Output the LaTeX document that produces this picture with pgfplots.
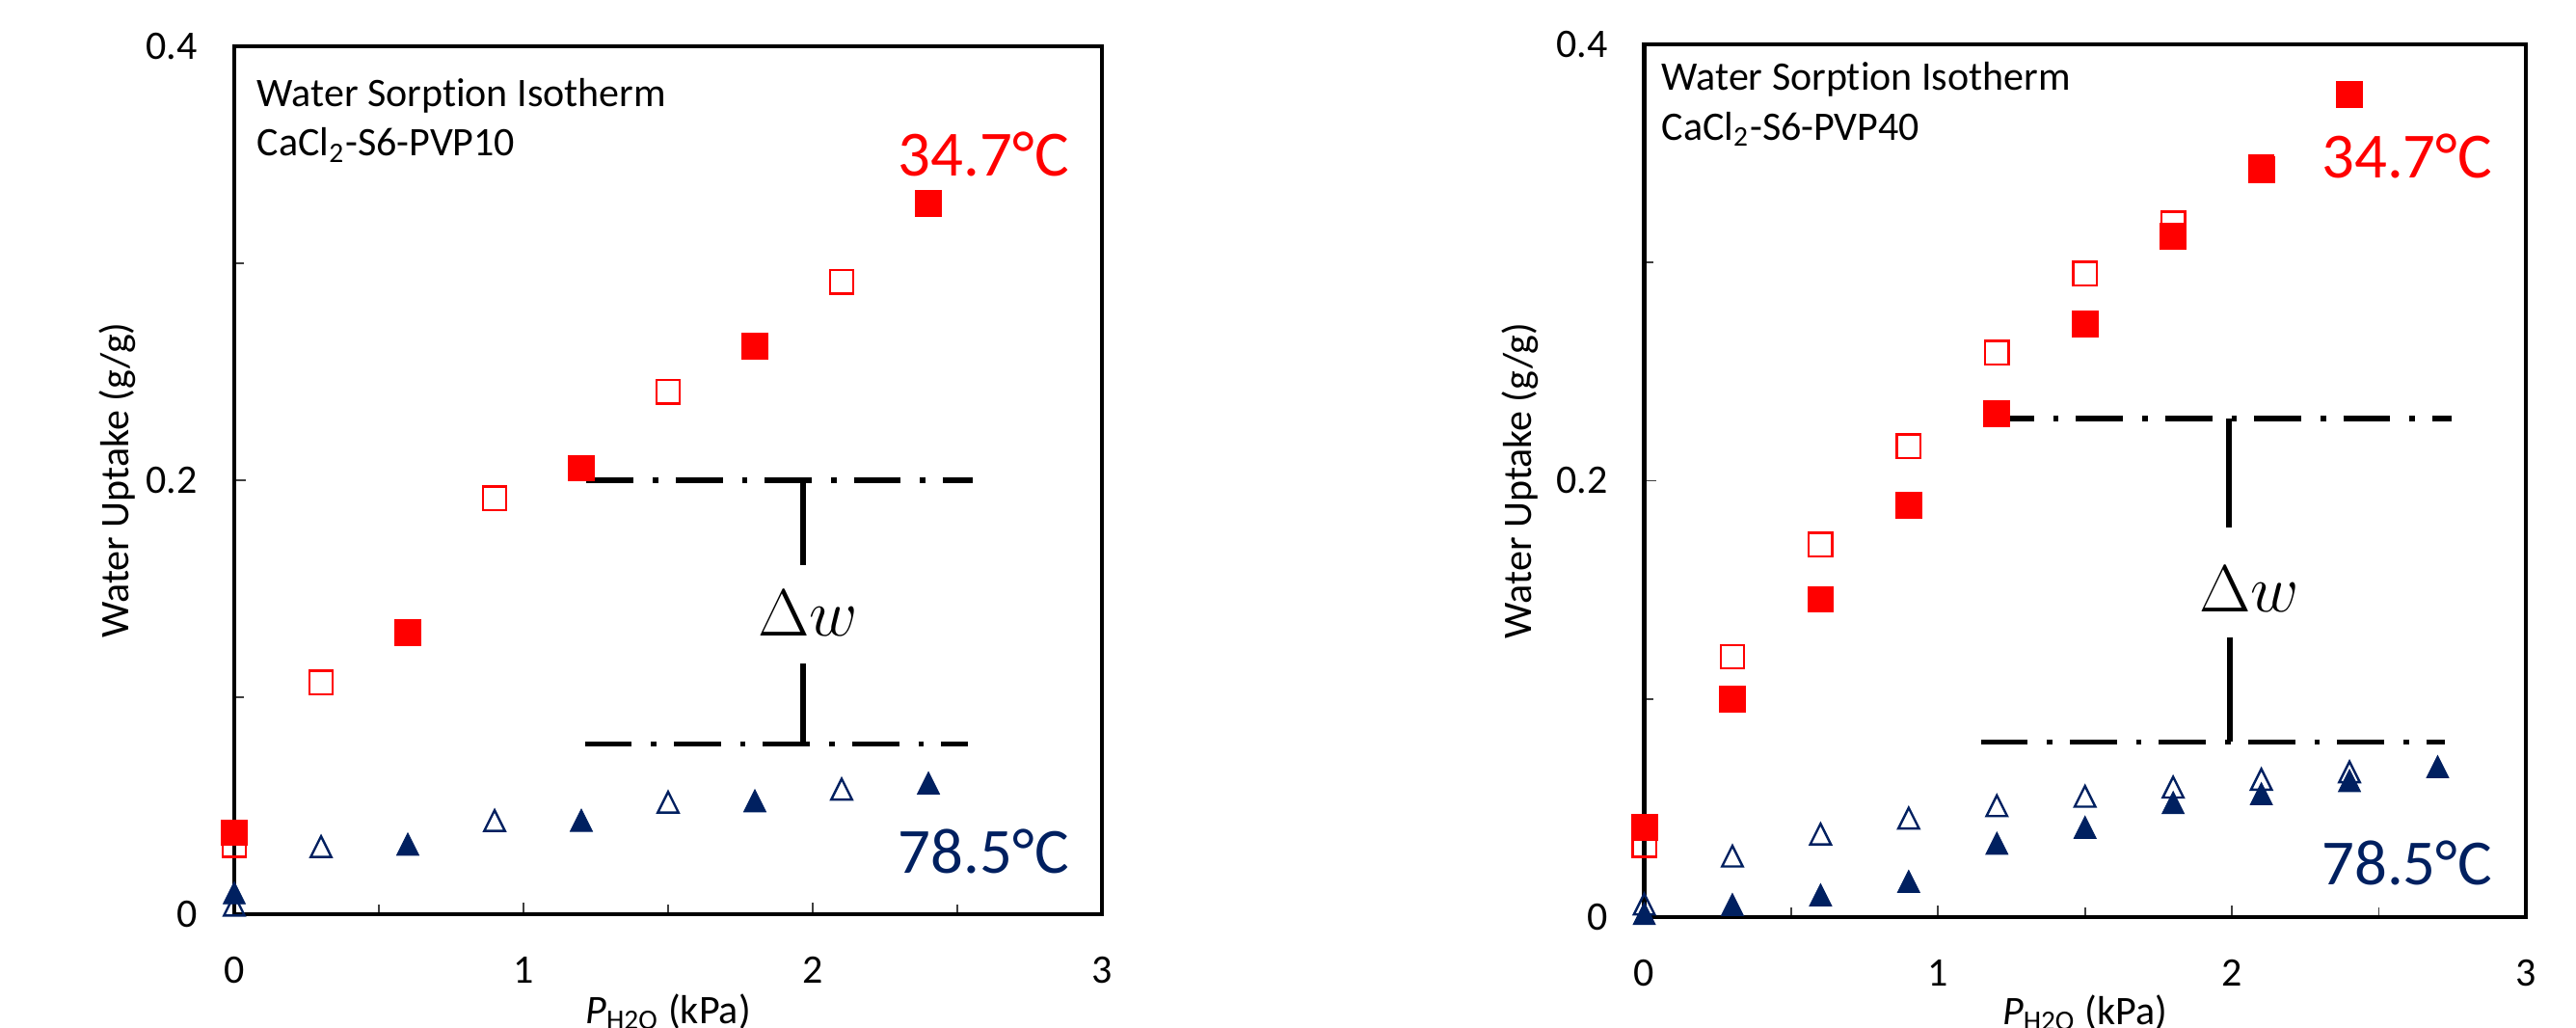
\documentclass[border=0pt]{standalone}
\usepackage[no-math]{fontspec}
\setmainfont{Carlito}[Ligatures={TeX,NoCommon}]
\usepackage{pgfplots}
\pgfplotsset{compat=1.18}
\definecolor{exred}{RGB}{255,0,0}
\definecolor{exnavy}{HTML}{002060}

\pgfplotsset{
  isostyle/.style={
    scale only axis, clip=false,
    xmin=0, xmax=3, ymin=0, ymax=0.4,
    xtick={0,1,2,3}, minor xtick={0.5,1.5,2.5},
    ytick={0,0.2,0.4}, minor ytick={0.1,0.3},
    tick align=inside, tick pos=left,
    major tick length=3pt, minor tick length=2.4pt,
    tick style={black!75, line width=0.45pt},
    axis line style={line width=1.1pt},
    /pgf/number format/assume math mode=true,
    tick label style={font=\fontsize{10.5}{12}\selectfont},
    xticklabel style={yshift=-7.5pt},
    yticklabel style={xshift=-6pt},
    label style={font=\fontsize{10.5}{12}\selectfont},
    xlabel={\textit{P}\textsubscript{H2O} (kPa)},
    ylabel={Water Uptake (g/g)},
  },
  redfill/.style={only marks, mark=square*, mark size=3.35pt,
    mark options={draw=exred, fill=exred, line width=0.2pt}},
  redopen/.style={only marks, mark=square, mark size=3.05pt,
    mark options={draw=exred, fill=none, line width=0.6pt}},
  bluefill/.style={only marks, mark=triangle*, mark size=3.33pt,
    mark options={yshift=-1.15pt, yscale=1.155, draw=exnavy, fill=exnavy, line width=0.2pt}},
  blueopen/.style={only marks, mark=triangle, mark size=3.1pt,
    mark options={yshift=-1.1pt, yscale=1.155, draw=exnavy, fill=none, line width=0.6pt}},
  dashdot/.style={black, line width=1.4pt, mark=none,
    dash pattern=on 12.2pt off 5pt on 1.4pt off 4.5pt},
  vbar/.style={black, line width=1.5pt, mark=none},
}

\newcommand{\titlefont}{\fontsize{10.5}{12}\selectfont}
\newcommand{\bigfont}{\fontsize{16.7}{20}\selectfont}

\begin{document}
\begin{tikzpicture}
\useasboundingbox (0,0) rectangle (668pt,266.5pt);

% ---------------- Left panel: CaCl2-S6-PVP10 ----------------
\begin{axis}[isostyle,
  at={(60.75pt,29.5pt)}, anchor=south west,
  width=225pt, height=225pt,
  xlabel style={at={(axis description cs:0.5,-0.1256)}, anchor=base},
  ylabel style={at={(axis description cs:-0.1222,0.5)}, anchor=base},
]
\addplot[dashdot] coordinates {(1.218,0.2) (2.553,0.2)};
\addplot[dashdot] coordinates {(1.212,0.0784) (2.536,0.0784)};
\addplot[vbar] coordinates {(1.966,0.2) (1.966,0.161)};
\addplot[vbar] coordinates {(1.968,0.1154) (1.968,0.0784)};

\addplot[redopen] coordinates {(0,0.0318) (0.3,0.1068) (0.9,0.1917) (1.5,0.2407) (2.1,0.2914)};
\addplot[redfill] coordinates {(0,0.0376) (0.6,0.1298) (1.2,0.2056) (1.8,0.2618) (2.4,0.3277)};
\addplot[blueopen] coordinates {(0,0.0045) (0.3,0.0315) (0.9,0.0435) (1.5,0.0520) (2.1,0.0580)};
\addplot[bluefill] coordinates {(0,0.0102) (0.6,0.0326) (1.2,0.0436) (1.8,0.0526) (2.4,0.0608)};

\node[anchor=base west, inner sep=0, font=\titlefont] at (axis cs:0.0767,0.3724) {Water Sorption Isotherm};
\node[anchor=base west, inner sep=0, font=\titlefont] at (axis cs:0.0767,0.3495) {CaCl\textsubscript{2}-S6-PVP10};
\node[anchor=base east, inner sep=0, font=\bigfont, text=exred] at (axis cs:2.888,0.3404) {34.7°C};
\node[anchor=base east, inner sep=0, font=\bigfont, text=exnavy] at (axis cs:2.888,0.0187) {78.5°C};
\node[inner sep=0, font=\fontsize{16}{19}\selectfont] at (axis cs:1.984,0.1388) {$\Delta w$};
\end{axis}

% ---------------- Right panel: CaCl2-S6-PVP40 ----------------
\begin{axis}[isostyle,
  at={(426.375pt,28.75pt)}, anchor=south west,
  width=228.6pt, height=226.25pt,
  xlabel style={at={(axis description cs:0.5,-0.1227)}, anchor=base},
  ylabel style={at={(axis description cs:-0.128,0.5)}, anchor=base},
]
\addplot[dashdot] coordinates {(1.166,0.2284) (2.747,0.2284)};
\addplot[dashdot] coordinates {(1.145,0.0803) (2.723,0.0803)};
\addplot[vbar] coordinates {(1.99,0.2284) (1.99,0.1787)};
\addplot[vbar] coordinates {(1.992,0.1283) (1.992,0.0803)};

\addplot[redopen] coordinates {(0,0.0331) (0.3,0.1193) (0.6,0.1708) (0.9,0.2158) (1.2,0.2587) (1.5,0.2950) (1.8,0.3180) (2.1,0.3436)};
\addplot[redfill] coordinates {(0,0.0411) (0.3,0.1001) (0.6,0.1457) (0.9,0.1889) (1.2,0.2308) (1.5,0.2720) (1.8,0.3120) (2.1,0.3425) (2.4,0.3770)};
\addplot[blueopen] coordinates {(0,0.0063) (0.3,0.0283) (0.6,0.0384) (0.9,0.0457) (1.2,0.0514) (1.5,0.0557) (1.8,0.0599) (2.1,0.0635) (2.4,0.0669)};
\addplot[bluefill] coordinates {(0,0.0020) (0.3,0.0061) (0.6,0.0105) (0.9,0.0167) (1.2,0.0342) (1.5,0.0415) (1.8,0.0528) (2.1,0.0569) (2.4,0.0629) (2.7,0.0693)};

\node[anchor=base west, inner sep=0, font=\titlefont] at (axis cs:0.057,0.379) {Water Sorption Isotherm};
\node[anchor=base west, inner sep=0, font=\titlefont] at (axis cs:0.057,0.3562) {CaCl\textsubscript{2}-S6-PVP40};
\node[anchor=base east, inner sep=0, font=\bigfont, text=exred] at (axis cs:2.888,0.339) {34.7°C};
\node[anchor=base east, inner sep=0, font=\bigfont, text=exnavy] at (axis cs:2.888,0.0149) {78.5°C};
\node[inner sep=0, font=\fontsize{16}{19}\selectfont] at (axis cs:2.06,0.1505) {$\Delta w$};
\end{axis}
\end{tikzpicture}
\end{document}
